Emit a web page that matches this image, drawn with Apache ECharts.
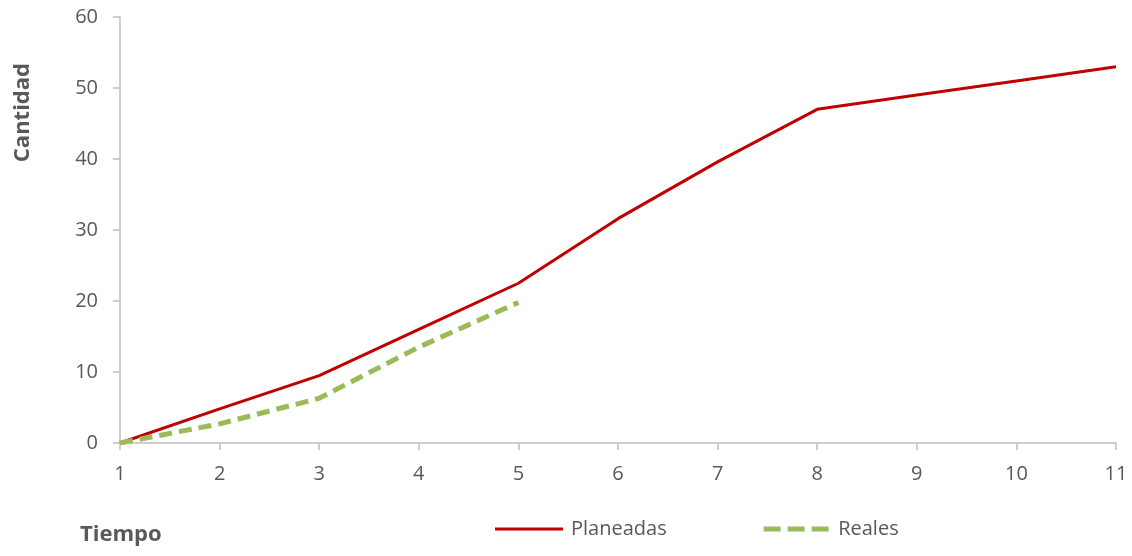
<!DOCTYPE html>
<html>
<head>
<meta charset="utf-8">
<script src="https://cdn.jsdelivr.net/npm/echarts@6/dist/echarts.min.js"></script>
<style>
  html, body { margin: 0; padding: 0; background: #fff; }
  #chart { width: 1132px; height: 556px; }
</style>
</head>
<body>
<div id="chart"></div>
<script>
// Periods on the horizontal axis
const tiempo = [1, 2, 3, 4, 5, 6, 7, 8, 9, 10, 11];
// Planned cumulative quantity per period
const planeadas = [0, 4.8, 9.5, 16, 22.5, 31.6, 39.6, 47, 49, 51, 53];
// Actual cumulative quantity (reported through period 5)
const reales = [0, 2.7, 6.3, 13.5, 19.8];

const FONT = "'Open Sans', 'Noto Sans', sans-serif";
const TEXT = '#595959';
const AXIS = '#bfbfbf';
const RED = '#c00000';
const GREEN = '#9bbb59';

const pairs = (ys) => ys.map((y, i) => [tiempo[i], y]);

const chart = echarts.init(document.getElementById('chart'), null, { renderer: 'canvas' });
chart.setOption({
  animation: false,
  backgroundColor: '#ffffff',
  grid: { left: 120, right: 16, top: 17, bottom: 113, containLabel: false },
  xAxis: {
    type: 'value',
    min: 1, max: 11, interval: 1,
    axisLine: { show: true, lineStyle: { color: AXIS, width: 1.5 } },
    axisTick: { show: true, length: 7, lineStyle: { color: AXIS, width: 1.5 } },
    axisLabel: { color: TEXT, fontFamily: FONT, fontSize: 20, margin: 21 },
    splitLine: { show: false }
  },
  yAxis: {
    type: 'value',
    min: 0, max: 60, interval: 10,
    axisLine: { show: true, lineStyle: { color: AXIS, width: 1.5 } },
    axisTick: { show: true, length: 7, lineStyle: { color: AXIS, width: 1.5 } },
    axisLabel: { color: TEXT, fontFamily: FONT, fontSize: 20, margin: 22 },
    splitLine: { show: false }
  },
  legend: {
    left: 490, top: 514,
    itemWidth: 68, itemHeight: 5, itemGap: 97,
    textStyle: { color: TEXT, fontFamily: FONT, fontSize: 20, padding: [0, 0, 0, 3] },
    itemStyle: { borderWidth: 0 },
    data: [
      { name: 'Planeadas', icon: 'path://M0,0h68v3h-68z', itemStyle: { color: RED } },
      { name: 'Reales', icon: 'path://M0,0h17v5h-17zM24,0h17v5h-17zM48,0h17v5h-17z', itemStyle: { color: GREEN } }
    ]
  },
  graphic: [
    {
      type: 'text', left: 12, top: 63, rotation: Math.PI / 2,
      style: { text: 'Cantidad', fill: TEXT, font: `bold 22px ${FONT}` }
    },
    {
      type: 'text', left: 80, top: 524,
      style: { text: 'Tiempo', fill: TEXT, font: `bold 22px ${FONT}` }
    }
  ],
  series: [
    {
      name: 'Planeadas', type: 'line',
      data: pairs(planeadas),
      symbol: 'none',
      lineStyle: { color: RED, width: 3 },
      itemStyle: { color: RED }
    },
    {
      name: 'Reales', type: 'line',
      data: pairs(reales),
      symbol: 'none',
      lineStyle: { color: GREEN, width: 5, type: [13, 7] },
      itemStyle: { color: GREEN }
    }
  ]
});
</script>
</body>
</html>
